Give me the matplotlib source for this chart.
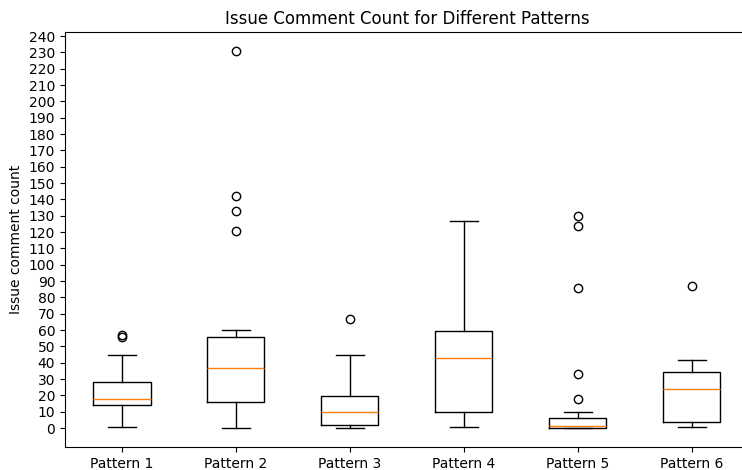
import matplotlib
matplotlib.use("Agg")
import matplotlib.pyplot as plt

patterns = ["Pattern 1", "Pattern 2", "Pattern 3", "Pattern 4", "Pattern 5", "Pattern 6"]
whislo = [1, 0, 0, 1, 0, 1]
q1 = [14, 16, 2, 10, 0, 3.5]
med = [18, 37, 10, 43, 1.5, 24]
q3 = [28, 55.5, 19.5, 59.5, 6.5, 34.5]
whishi = [45, 60, 45, 127, 10, 42]
fliers = [
    [56, 57],
    [121, 133, 142, 231],
    [67],
    [],
    [18, 33, 86, 124, 130],
    [87],
]

stats = []
for i, name in enumerate(patterns):
    stats.append({
        "label": name,
        "whislo": whislo[i],
        "q1": q1[i],
        "med": med[i],
        "q3": q3[i],
        "whishi": whishi[i],
        "fliers": fliers[i],
    })

fig = plt.figure(figsize=(7.42, 4.70), dpi=100)
# the original image was cropped on the right, so the axes run past the edge
ax = fig.add_axes([65 / 742, 23 / 470, 684 / 742, 415 / 470])
ax.bxp(stats)
ax.set_yticks(range(0, 241, 10))
ax.set_title("Issue Comment Count for Different Patterns")
ax.set_ylabel("Issue comment count")

fig.savefig("out.png", dpi=100)
